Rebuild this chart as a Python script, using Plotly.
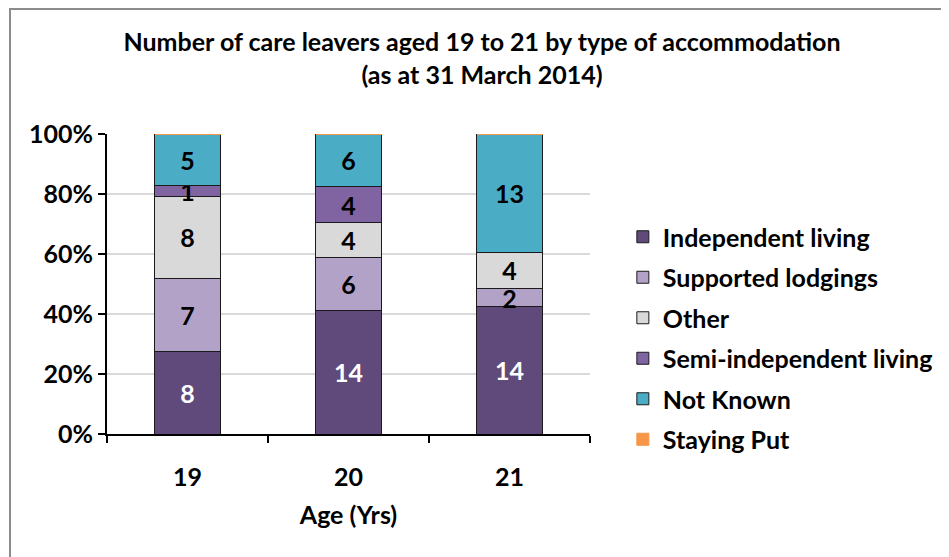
import plotly.graph_objects as go

ages = ["19", "20", "21"]
independent_living = [8, 14, 14]
supported_lodgings = [7, 6, 2]
other = [8, 4, 4]
semi_independent = [1, 4, 0]
not_known = [5, 6, 13]
staying_put = [0, 0, 0]
y_ticks = [0, 20, 40, 60, 80, 100]
y_tick_labels = ["0%", "20%", "40%", "60%", "80%", "100%"]

series = [
    ("Independent living", independent_living, "#604A7B", "white"),
    ("Supported lodgings", supported_lodgings, "#B3A2C7", "black"),
    ("Other", other, "#D9D9D9", "black"),
    ("Semi-independent living", semi_independent, "#8064A2", "black"),
    ("Not Known", not_known, "#4BACC6", "black"),
    ("Staying Put", staying_put, "#F79646", "black"),
]

FONT = "Lato, Open Sans, sans-serif"
FS = 25
W, H = 949, 557
L, T, R, B = 99, 126, 367, 131
PW, PH = W - L - R, H - T - B

fig = go.Figure()
for i, (name, vals, color, tcol) in enumerate(series):
    fig.add_trace(go.Bar(
        name="<b>" + name + "</b>", x=ages, y=vals,
        legendgroup="g%d" % i,
        marker=dict(color=color, line=dict(color="#1a1a1a" if name != "Staying Put" else color, width=1)),
        text=[str(v) if v else "" for v in vals],
        texttemplate="<b>%{text}</b>",
        textposition="inside", insidetextanchor="middle", textangle=0,
        constraintext="none",
        textfont=dict(color=tcol, size=FS, family=FONT),
    ))

fig.update_layout(
    barmode="stack", barnorm="percent", bargap=0.59,
    width=W, height=H,
    margin=dict(l=L, r=R, t=T, b=B),
    paper_bgcolor="white", plot_bgcolor="white",
    font=dict(family=FONT, color="black"),
    title=dict(text="<b>Number of care leavers aged 19 to 21 by type of accommodation<br>(as at 31 March 2014)</b>",
               x=(482 - 8) / W, xanchor="center", y=1 - 43 / H, yanchor="middle",
               font=dict(size=FS, family=FONT, color="black")),
    legend=dict(x=1.068, y=0.32, xanchor="left", yanchor="middle",
                traceorder="grouped", font=dict(size=FS, family=FONT, color="black"),
                itemwidth=30, tracegroupgap=5, bgcolor="rgba(0,0,0,0)"),
    showlegend=True,
)
fig.update_yaxes(range=[0, 100], tickvals=y_ticks,
                 ticktext=["<b>" + t + "</b>" for t in y_tick_labels],
                 automargin=False,
                 showgrid=True, gridcolor="#D9D9D9", gridwidth=1.5,
                 showline=True, linecolor="black", linewidth=2,
                 ticks="outside", ticklen=7, tickwidth=2, tickcolor="black",
                 tickfont=dict(size=FS, family=FONT, color="black"))
fig.update_xaxes(showline=True, linecolor="black", linewidth=2, automargin=False,
                 ticks="outside", ticklen=7, tickwidth=2, tickcolor="black",
                 tickson="boundaries", tickprefix="<b>", ticksuffix="</b>",
                 tickfont=dict(size=FS, family=FONT, color="black"), ticklabelstandoff=20,
                 title=dict(text="<b>Age (Yrs)</b>", font=dict(size=FS, family=FONT, color="black"), standoff=16))

# outer chart border
fig.add_shape(type="rect", xref="paper", yref="paper",
              x0=(2 - L) / PW, x1=(960 - L) / PW,
              y0=-(B + 20) / PH, y1=(PH + T - 1) / PH,
              line=dict(color="#8c8c8c", width=2), fillcolor="rgba(0,0,0,0)", layer="below")

fig.write_html("out.html")
